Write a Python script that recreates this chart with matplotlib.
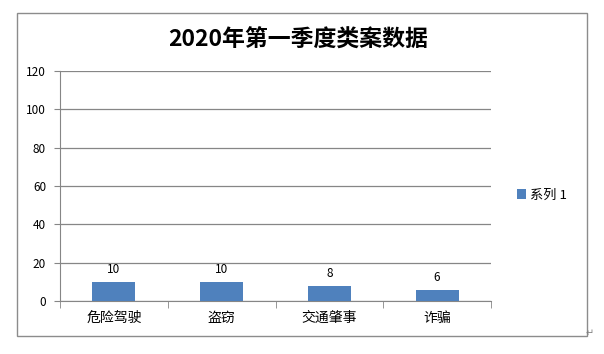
import matplotlib.pyplot as plt
from matplotlib.patches import Rectangle

plt.rcParams['font.family'] = ['Noto Sans CJK SC', 'DejaVu Sans']

categories = ['危险驾驶', '盗窃', '交通肇事', '诈骗']
values = [10, 10, 8, 6]
yticks = [0, 20, 40, 60, 80, 100, 120]
series_name = '系列 1'
title = '2020年第一季度类案数据'

bar_color = '#4f81bd'
grid_color = '#868686'

fig = plt.figure(figsize=(6.04, 3.54), dpi=100)
ax = fig.add_axes([60 / 604, 1 - 301 / 354, 431 / 604, 230 / 354])

x = list(range(len(categories)))
bars = ax.bar(x, values, width=0.4, color=bar_color, zorder=3, label=series_name)
for xi, v in zip(x, values):
    ax.text(xi, v + 3, str(v), ha='center', va='bottom', fontsize=8.5)

ax.set_xlim(-0.5, len(categories) - 0.5)
ax.set_ylim(0, 120)
ax.set_yticks(yticks)
ax.set_yticklabels([str(t) for t in yticks], fontsize=8.5)
ax.set_xticks(x)
ax.set_xticklabels(categories, fontsize=10)
ax.tick_params(axis='x', length=0, pad=7)
ax.tick_params(axis='y', length=4, color=grid_color, pad=6)
# category boundary ticks
ax.set_xticks([i - 0.5 for i in range(len(categories) + 1)], minor=True)
ax.tick_params(axis='x', which='minor', length=5, color=grid_color)
ax.grid(axis='y', color=grid_color, linewidth=0.9, zorder=0)
for s in ['top', 'right']:
    ax.spines[s].set_visible(False)
ax.spines['left'].set_color(grid_color)
ax.spines['bottom'].set_color(grid_color)

fig.text(298 / 604, 1 - 40 / 354, title, ha='center', va='center', fontsize=16.5, fontweight='bold')

leg = fig.legend(handles=[bars], labels=[series_name], loc='center left',
                 bbox_to_anchor=(505 / 604, 1 - 195 / 354), frameon=False,
                 fontsize=9.5, handlelength=0.7, handleheight=0.7, handletextpad=0.3)

fig.patches.append(Rectangle((17 / 604, 1 - 336 / 354), 570 / 604, 323 / 354,
                             transform=fig.transFigure, fill=False,
                             edgecolor='#8c8c8c', linewidth=1))
fig.text(590 / 604, 1 - 333 / 354, '↵', ha='center', va='center', fontsize=7,
         color='#808080', family=['DejaVu Sans'])

fig.savefig('out.png', dpi=100)
